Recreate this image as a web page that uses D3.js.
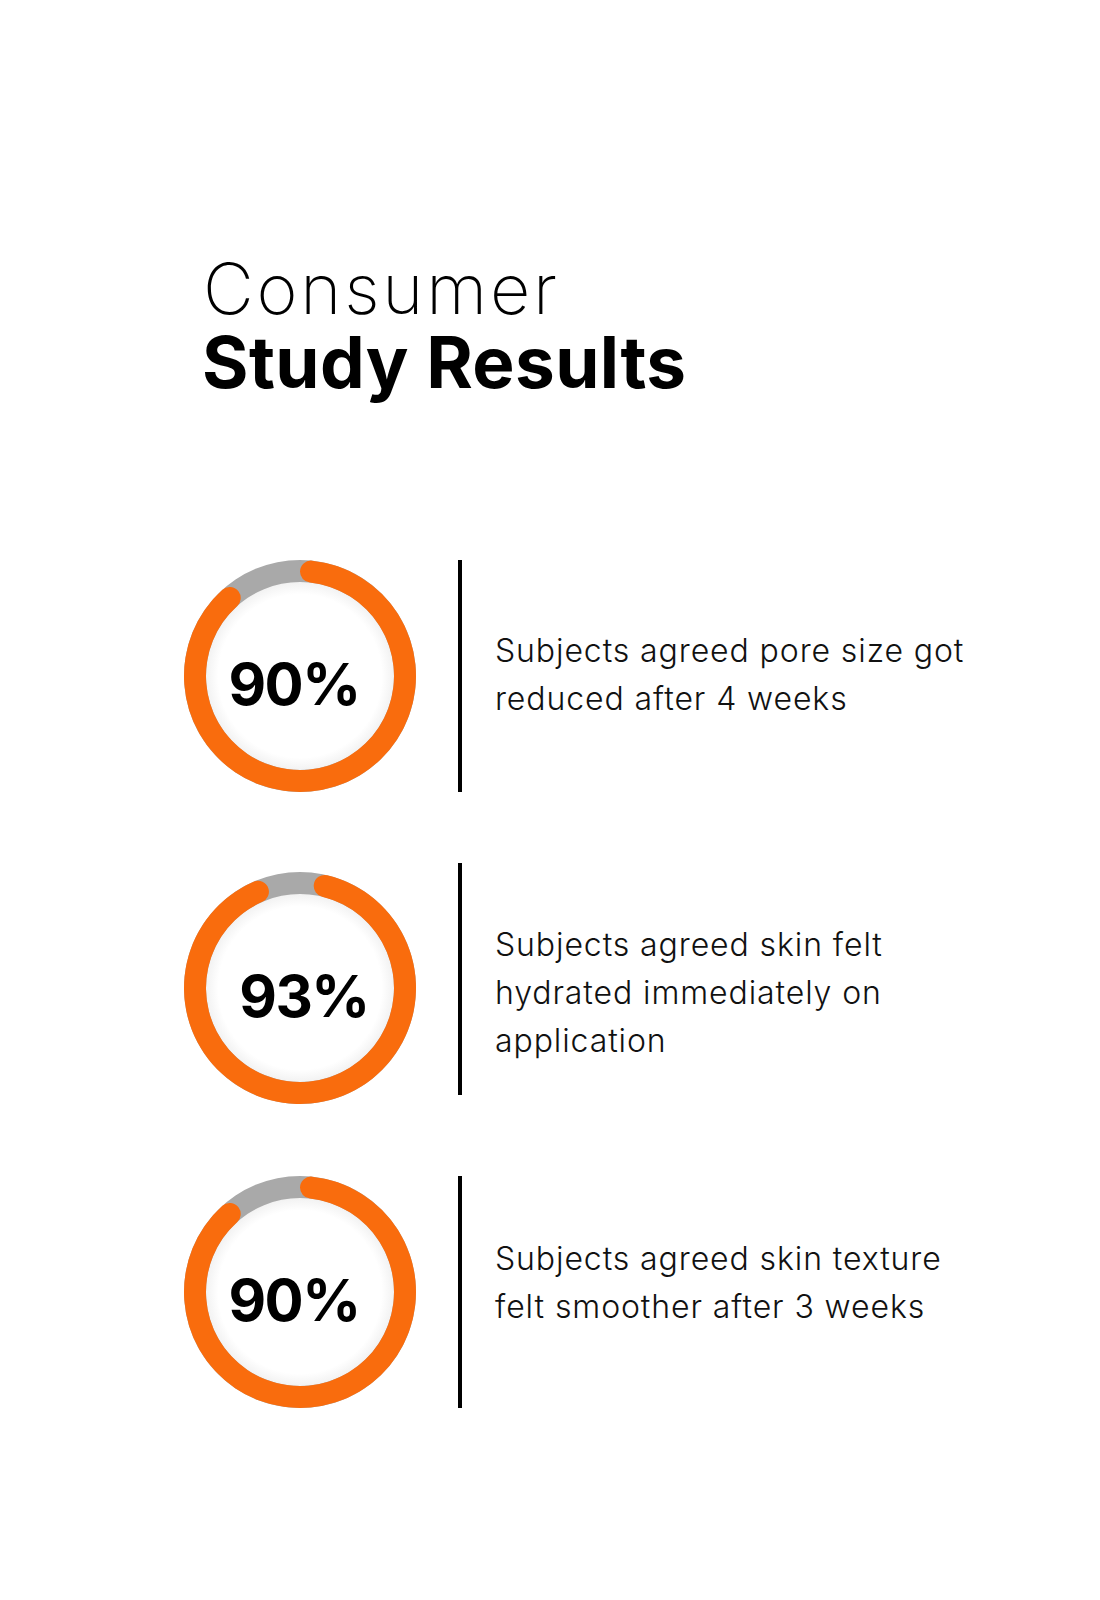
<!DOCTYPE html>
<html>
<head>
<meta charset="utf-8">
<script src="https://cdn.jsdelivr.net/npm/d3@7"></script>
<style>
  html, body { margin: 0; padding: 0; background: #ffffff; }
  svg { display: block; }
</style>
</head>
<body>
<div id="chart"></div>
<script>
// ---- data ----
const titleLines = ["Consumer", "Study Results"];
const categories = ["pore", "hydration", "texture"];
const values = [90, 93, 90];
const labels = ["90%", "93%", "90%"];
const descriptions = [
  ["Subjects agreed pore size got", "reduced after 4 weeks"],
  ["Subjects agreed skin felt", "hydrated immediately on", "application"],
  ["Subjects agreed skin texture", "felt smoother after 3 weeks"]
];

// ---- layout / style ----
const W = 1100, H = 1600;
const cx = 300;
const outerR = 116, innerR = 94;
const rowY = [676, 979, 1292];
const donutDy = [0, 9, 0];
const gapCenterDeg = [-18, -5, -18];      // rotation of the grey remainder
const labelDx = [-6, 4, -6];
const textFirstBaseline = [-14, -23, -22];
const ORANGE = "#F96C0D", GREY = "#A9A9A9";

const svg = d3.select("#chart").append("svg")
  .attr("width", W).attr("height", H);

const defs = svg.append("defs");
const rg = defs.append("radialGradient").attr("id", "innerShade");
rg.append("stop").attr("offset", "0.86").attr("stop-color", "#ffffff");
rg.append("stop").attr("offset", "1").attr("stop-color", "#f1f1f1");

// title
svg.append("text")
  .attr("x", 203).attr("y", 314)
  .attr("font-family", "Inter, 'Noto Sans', sans-serif")
  .attr("font-weight", 200)
  .attr("font-size", 70)
  .attr("letter-spacing", 2.8)
  .attr("fill", "#000")
  .text(titleLines[0]);
svg.append("text")
  .attr("x", 202).attr("y", 388)
  .attr("font-family", "Inter, 'Noto Sans', sans-serif")
  .attr("font-weight", 700)
  .attr("font-size", 71)
  .attr("letter-spacing", 0.4)
  .attr("fill", "#000")
  .text(titleLines[1]);

// scales
const y = d3.scaleOrdinal().domain(categories).range(rowY);
const angle = d3.scaleLinear().domain([0, 100]).range([0, 2 * Math.PI]);

const ringArc = d3.arc().innerRadius(innerR).outerRadius(outerR);
const valueArc = d3.arc().innerRadius(innerR).outerRadius(outerR)
  .cornerRadius((outerR - innerR) / 2);

const rows = svg.selectAll("g.row")
  .data(categories.map((c, i) => ({ c, i, v: values[i], label: labels[i], desc: descriptions[i] })))
  .join("g")
  .attr("class", "row")
  .attr("transform", d => `translate(${cx},${y(d.c)})`);

const donuts = rows.append("g")
  .attr("transform", d => `translate(0,${donutDy[d.i]})`);

// inner disc with faint shading
donuts.append("circle")
  .attr("r", innerR + 1)
  .attr("fill", "url(#innerShade)");

// grey full ring
donuts.append("path")
  .attr("d", ringArc({ startAngle: 0, endAngle: 2 * Math.PI }))
  .attr("fill", GREY);

// orange value arc
donuts.append("path")
  .attr("fill", ORANGE)
  .attr("d", d => {
    const gap = angle(100 - d.v);
    const center = gapCenterDeg[d.i] * Math.PI / 180;
    const start = center + gap / 2;
    return valueArc({ startAngle: start, endAngle: start + angle(d.v) });
  });

// percentage label
donuts.append("text")
  .attr("x", d => labelDx[d.i])
  .attr("y", 29)
  .attr("text-anchor", "middle")
  .attr("font-family", "Inter, 'Noto Sans', sans-serif")
  .attr("font-weight", 700)
  .attr("font-size", 58)
  .attr("letter-spacing", -1.5)
  .attr("fill", "#000")
  .text(d => d.label);

// divider line
rows.append("line")
  .attr("x1", 160).attr("x2", 160)
  .attr("y1", -outerR).attr("y2", outerR)
  .attr("stroke", "#000")
  .attr("stroke-width", 4);

// descriptions
rows.append("text")
  .attr("font-family", "Inter, 'Noto Sans', sans-serif")
  .attr("font-weight", 300)
  .attr("font-size", 32)
  .attr("letter-spacing", 0.9)
  .attr("fill", "#111")
  .each(function(d) {
    d3.select(this).selectAll("tspan")
      .data(d.desc)
      .join("tspan")
      .attr("x", 195)
      .attr("y", (t, j) => textFirstBaseline[d.i] + j * 48)
      .text(t => t);
  });
</script>
</body>
</html>
